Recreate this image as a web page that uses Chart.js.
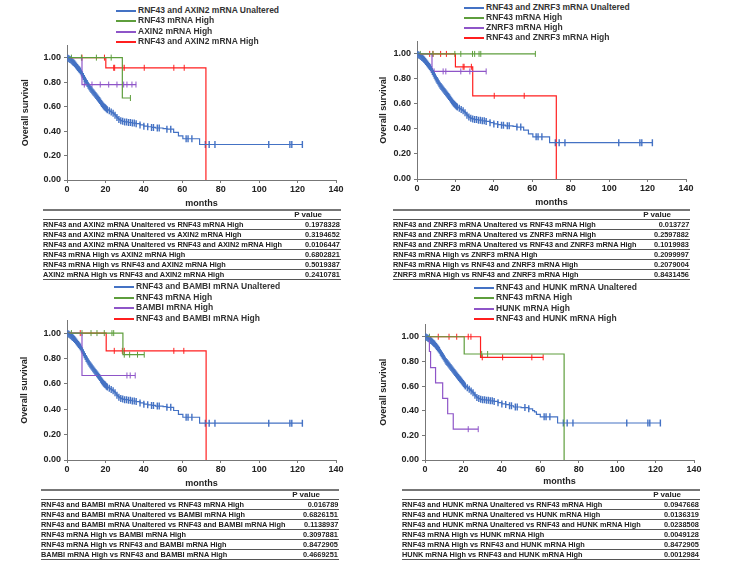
<!DOCTYPE html>
<html>
<head>
<meta charset="utf-8">
<script src="https://cdn.jsdelivr.net/npm/chart.js@4.4.1/dist/chart.umd.min.js"></script>
<style>
  body { margin: 0; background: #fff; }
  #page { position: relative; width: 750px; height: 563px; overflow: hidden; font-family: "Liberation Sans", Arial, sans-serif; }
  canvas { position: absolute; }
  .leg { position: absolute; height: 10px; line-height: 10px; font-size: 8.5px; font-weight: bold; color: #333; white-space: nowrap; }
  .leg span { display: inline-block; width: 20px; height: 1.5px; vertical-align: middle; margin-right: 2px; }
  .tbl { position: absolute; border-top: 2px solid #777; font-family: "Liberation Sans", Arial, sans-serif; font-size: 8px; font-weight: bold; color: #222; }
  .tbl div { border-bottom: 1px solid #555; height: 9px; line-height: 9px; white-space: nowrap; position: relative; }
  .tbl div.hd { height: 8px; line-height: 8px; text-align: right; padding-right: 19px; }
  .tbl div i { font-style: normal; display: inline-block; transform: scaleX(0.92); transform-origin: left center; }
  .tbl div b { position: absolute; right: 1px; top: 0; transform: scaleX(0.92); transform-origin: right center; }
</style>
</head>
<body>
<div id="page"></div>
<script>
// axis ticks
const xTicks = [0, 20, 40, 60, 80, 100, 120, 140];
const yTicks = [0, 0.2, 0.4, 0.6, 0.8, 1.0];

const colors = ['#4472C4', '#5E9E3C', '#8E55C8', '#FF1F1F'];

// unaltered group, panels 1-3 : [months, survival]
const unalteredA = [[0,1],[0.5,.995],[1,.99],[1.5,.985],[2,.98],[2.5,.972],[3,.965],[3.5,.958],[4,.95],[4.5,.94],
  [5,.93],[5.5,.92],[6,.91],[6.5,.90],[7,.89],[7.5,.875],[8,.86],[8.5,.845],[9,.83],[9.5,.815],
  [10,.80],[10.5,.788],[11,.775],[11.5,.762],[12,.75],[12.5,.74],[13,.73],[13.5,.72],[14,.71],[14.5,.70],
  [15,.69],[15.5,.68],[16,.67],[16.5,.66],[17,.65],[17.5,.637],[18,.625],[18.5,.615],[19,.605],[19.5,.597],
  [20,.59],[20.5,.582],[21,.575],[21.5,.57],[22,.565],[22.5,.56],[23,.555],[23.5,.55],[24,.545],[24.5,.538],
  [25,.53],[25.5,.52],[26,.51],[26.5,.502],[27,.495],[27.5,.49],[28,.485],[28.5,.482],[29,.48],[29.5,.478],
  [30,.475],[32,.47],[34,.465],[36,.46],[38,.45],[40,.44],[42,.435],[44,.43],[46,.425],[50,.42],
  [52,.415],[55.5,.39],[58,.36],[60.3,.337],[69,.29],[122.5,.29]];
const unalteredCensA = [0.5,1,1.5,2,2.5,3,3.5,4,4.5,5,5.5,6,6.5,7,7.5,8,8.5,9,9.5,10,10.5,11,11.5,12,12.5,13,13.5,
  14,14.5,15,15.5,16,16.5,17,17.5,18,18.5,19,19.5,20,20.5,21,22,23,24,25,26,27,28,29,30,31,32,33,34,35,36,38,40,
  42,44,45,47,48,52,54,62,63,65,72,74,77,105,116,117,122.5];

// unaltered group, panel 4
const unalteredB = [[0,1],[0.5,.997],[1,.993],[1.5,.988],[2,.983],[2.5,.977],[3,.97],[3.5,.963],[4,.955],[4.5,.947],
  [5,.94],[5.5,.93],[6,.92],[6.5,.91],[7,.90],[7.5,.89],[8,.875],[8.5,.862],[9,.85],[9.5,.837],
  [10,.825],[10.5,.812],[11,.80],[11.5,.79],[12,.78],[12.5,.77],[13,.76],[13.5,.75],[14,.74],[14.5,.73],
  [15,.72],[15.5,.71],[16,.70],[16.5,.69],[17,.68],[17.5,.67],[18,.66],[18.5,.65],[19,.64],[19.5,.63],
  [20,.62],[20.5,.61],[21,.60],[21.5,.593],[22,.587],[22.5,.58],[23,.573],[23.5,.567],[24,.56],[24.5,.553],
  [25,.545],[25.5,.535],[26,.525],[26.5,.515],[27,.508],[27.5,.502],[28,.498],[28.5,.495],[29,.492],[29.5,.49],
  [30,.488],[32,.485],[34,.48],[36,.475],[38,.465],[40,.455],[42,.45],[44,.44],[46,.43],[50,.425],
  [54,.415],[56,.40],[57,.39],[58,.37],[60,.35],[69,.30],[122.5,.30]];
const unalteredCensB = unalteredCensA;

// panel 1: AXIN2
const labels1 = ['RNF43 and AXIN2 mRNA Unaltered', 'RNF43 mRNA High', 'AXIN2 mRNA High', 'RNF43 and AXIN2 mRNA High'];
const rnf1 = [[0,1],[28.8,.67],[33,.67]];
const rnf1Cens = [2.3,7.5,15.3,23,33];
const gene1 = [[0,1],[7.8,.78],[36,.78]];
const gene1Cens = [9,13,17.3,21.7,26,29.5,31.2,33.8,35.9];
const both1 = [[0,1],[20.2,.917],[72.3,0]];
const both1Cens = [7.8,19.5,24.3,24.8,29,29.8,40.2,55.6,61];
const pvals1 = ['0.1978328', '0.3194652', '0.0106447', '0.6802821', '0.5019387', '0.2410781'];

// panel 2: ZNRF3
const labels2 = ['RNF43 and ZNRF3 mRNA Unaltered', 'RNF43 mRNA High', 'ZNRF3 mRNA High', 'RNF43 and ZNRF3 mRNA High'];
const rnf2 = [[0,1],[61.6,1]];
const rnf2Cens = [1.7,8.3,19.7,22.8,28.9,30,32.3,33.2,61.6];
const gene2 = [[0,1],[7.8,.86],[36,.86]];
const gene2Cens = [8.9,13.6,15,22.8,27.5,36];
const both2 = [[0,1],[20,.897],[29,.665],[72.5,0]];
const both2Cens = [6.6,8.3,12.3,15.3,24,24.5,28.3,40.2,55.8];
const pvals2 = ['0.013727', '0.2597882', '0.1019983', '0.2099997', '0.2079004', '0.8431456'];

// panel 3: BAMBI
const labels3 = ['RNF43 and BAMBI mRNA Unaltered', 'RNF43 mRNA High', 'BAMBI mRNA High', 'RNF43 and BAMBI mRNA High'];
const rnf3 = [[0,1],[29.1,.83],[40.2,.83]];
const rnf3Cens = [2.3,7.8,12.5,15.6,19.4,23.4,24.3,29.8,32.6,36.7,40.2];
const gene3 = [[0,1],[7.8,.666],[35.5,.666]];
const gene3Cens = [31.2,32.9,35.5];
const both3 = [[0,1],[20.4,.86],[72.4,0]];
const both3Cens = [6.9,24.6,28.8,29.8,55.6,60.8];
const pvals3 = ['0.016789', '0.6826151', '0.1138937', '0.3097881', '0.8472905', '0.4669251'];

// panel 4: HUNK
const labels4 = ['RNF43 and HUNK mRNA Unaltered', 'RNF43 mRNA High', 'HUNK mRNA High', 'RNF43 and HUNK mRNA High'];
const rnf4 = [[0,1],[20.4,.86],[72.4,0]];
const rnf4Cens = [2.3,29.5,32.6];
const gene4 = [[0,1],[2.3,.88],[2.9,.75],[5.5,.625],[9.2,.5],[11.8,.375],[14.7,.25],[27.7,.25]];
const gene4Cens = [22.5,27.7];
const both4 = [[0,1],[28.9,.833],[61.5,.833]];
const both4Cens = [6.9,12.5,16.5,22.5,23.9,29.8,40.4,55.6,61.5];
const pvals4 = ['0.0947668', '0.0136319', '0.0238508', '0.0049128', '0.8472905', '0.0012984'];

// comparisons in table order (group index pairs)
const pairs = [[0,1],[0,2],[0,3],[1,2],[1,3],[2,3]];

const panels = [
  { labels: labels1, curves: [[unalteredA, unalteredCensA], [rnf1, rnf1Cens], [gene1, gene1Cens], [both1, both1Cens]], pvals: pvals1,
    L: 67, T: 45, R: 336, B: 180, xH: 30, yPad: 3.6, legX: 116, legY: [10, 20, 31, 41], tbl: [43, 209, 298] },
  { labels: labels2, curves: [[unalteredA, unalteredCensA], [rnf2, rnf2Cens], [gene2, gene2Cens], [both2, both2Cens]], pvals: pvals2,
    L: 417, T: 41, R: 686, B: 179, xH: 30, yPad: 11.3, legX: 464, legY: [7, 17, 27, 37], tbl: [393, 209, 297] },
  { labels: labels3, curves: [[unalteredA, unalteredCensA], [rnf3, rnf3Cens], [gene3, gene3Cens], [both3, both3Cens]], pvals: pvals3,
    L: 67, T: 320, R: 336, B: 460, xH: 30, yPad: 2.6, legX: 114, legY: [286, 297, 307, 318], tbl: [41, 489, 298] },
  { labels: labels4, curves: [[unalteredB, unalteredCensB], [rnf4, rnf4Cens], [gene4, gene4Cens], [both4, both4Cens]], pvals: pvals4,
    L: 425, T: 324, R: 694, B: 460, xH: 28, yPad: 3.6, legX: 474, legY: [287, 297, 308, 318], tbl: [402, 489, 298] }
];

function survAt(steps, t) {
  let s = steps[0][1];
  steps.forEach(p => { if (p[0] <= t) s = p[1]; });
  return s;
}

const page = document.getElementById('page');
const tickFont = { family: '"Liberation Sans", Arial, sans-serif', size: 9, weight: 'bold' };

panels.forEach(p => {
  const padTop = 8, padBottom = 2, padRight = 12, yW = 50;
  const canvas = document.createElement('canvas');
  canvas.width = yW + (p.R - p.L) + padRight;
  canvas.height = padTop + (p.B - p.T) + p.xH + padBottom;
  canvas.style.left = (p.L - yW) + 'px';
  canvas.style.top = (p.T - padTop) + 'px';
  page.appendChild(canvas);

  const datasets = [];
  p.curves.forEach((c, i) => {
    datasets.push({
      label: p.labels[i],
      data: c[0].map(d => ({ x: d[0], y: d[1] })),
      showLine: true, stepped: true,
      borderColor: colors[i], borderWidth: 1.2, pointRadius: 0
    });
  });
  p.curves.forEach((c, i) => {
    datasets.push({
      label: p.labels[i] + ' censored',
      data: c[1].map(t => ({ x: t, y: survAt(c[0], t) })),
      showLine: false,
      pointStyle: 'line', rotation: 90, pointRadius: i === 0 ? 3.5 : 3,
      borderColor: colors[i], backgroundColor: colors[i], pointBorderWidth: i === 0 ? 1.4 : 1
    });
  });

  new Chart(canvas, {
    type: 'scatter',
    data: { datasets: datasets },
    options: {
      responsive: false,
      animation: false,
      layout: { padding: { top: padTop, bottom: padBottom, right: padRight, left: 0 } },
      plugins: { legend: { display: false }, tooltip: { enabled: false } },
      scales: {
        x: {
          type: 'linear', min: 0, max: 140,
          afterBuildTicks: s => { s.ticks = xTicks.map(v => ({ value: v })); },
          afterFit: s => { s.height = p.xH; },
          ticks: { font: tickFont, color: '#222', padding: 1, maxRotation: 0, autoSkip: false },
          grid: { drawOnChartArea: false, tickLength: 3, color: '#777' },
          border: { color: '#777' },
          title: { display: true, text: 'months', font: tickFont, color: '#222', padding: { top: 0, bottom: 1 } }
        },
        y: {
          type: 'linear', min: 0, max: 1.1,
          afterBuildTicks: s => { s.ticks = yTicks.map(v => ({ value: v })); },
          afterFit: s => { s.width = yW; },
          ticks: { font: tickFont, color: '#222', padding: 3, callback: v => v.toFixed(2) },
          grid: { drawOnChartArea: false, tickLength: 3, color: '#777' },
          border: { color: '#777' },
          title: { display: true, text: 'Overall survival', font: tickFont, color: '#222', padding: { top: p.yPad, bottom: 0 } }
        }
      }
    }
  });

  // legend
  p.labels.forEach((lab, i) => {
    const d = document.createElement('div');
    d.className = 'leg';
    d.style.left = p.legX + 'px';
    d.style.top = (p.legY[i] - 5) + 'px';
    d.innerHTML = '<span style="background:' + colors[i] + '"></span>' + lab;
    page.appendChild(d);
  });

  // p value table
  const t = document.createElement('div');
  t.className = 'tbl';
  t.style.left = p.tbl[0] + 'px';
  t.style.top = p.tbl[1] + 'px';
  t.style.width = p.tbl[2] + 'px';
  let html = '<div class="hd">P value</div>';
  pairs.forEach((pr, k) => {
    html += '<div><i>' + p.labels[pr[0]] + ' vs ' + p.labels[pr[1]] + '</i><b>' + p.pvals[k] + '</b></div>';
  });
  t.innerHTML = html;
  page.appendChild(t);
});
</script>
</body>
</html>
